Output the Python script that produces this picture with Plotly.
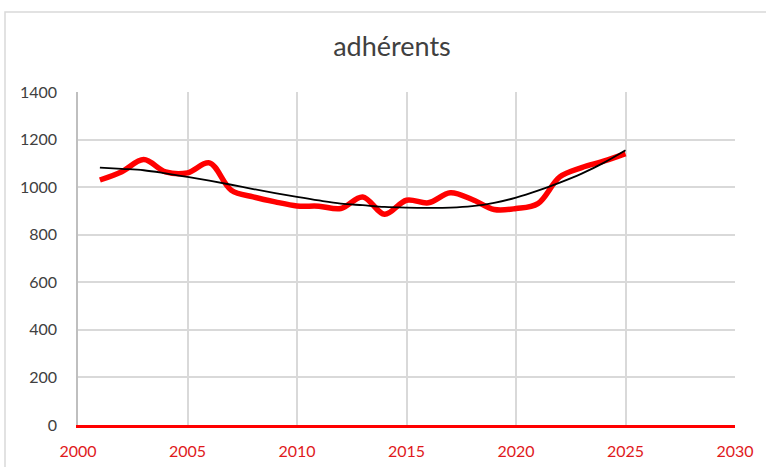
import plotly.graph_objects as go

years = list(range(2001, 2026))
adherents = [1030, 1065, 1116, 1064, 1060, 1102, 987, 959, 938, 921,
             920, 910, 959, 886, 945, 934, 976, 948, 906, 910,
             931, 1043, 1082, 1109, 1141]
trend = [1082, 1077, 1071, 1058, 1043, 1027, 1010, 992, 975, 959,
         944, 931, 924, 917, 914, 913, 914, 920, 934, 956,
         985, 1019, 1057, 1102, 1155]

x_ticks = [2000, 2005, 2010, 2015, 2020, 2025, 2030]
y_ticks = [0, 200, 400, 600, 800, 1000, 1200, 1400]

W, H = 766, 467
L, R, T, B = 78, 31, 92, 42
pw, ph = W - L - R, H - T - B

fig = go.Figure()
fig.add_trace(go.Scatter(x=years, y=adherents, mode="lines",
                         line=dict(color="#ff0000", width=5.5, shape="spline", smoothing=1.0),
                         showlegend=False, hoverinfo="skip"))
fig.add_trace(go.Scatter(x=years, y=trend, mode="lines",
                         line=dict(color="#000000", width=1.8, shape="spline", smoothing=1.0),
                         showlegend=False, hoverinfo="skip"))

fig.update_layout(
    width=W, height=H,
    margin=dict(l=L, r=R, t=T, b=B, pad=0),
    showlegend=False,
    paper_bgcolor="white", plot_bgcolor="white",
    font=dict(family="Lato, 'Open Sans', sans-serif", color="#595959"),
    title=dict(text="adhérents", x=392 / W, xanchor="center", y=1 - 47 / H, yanchor="middle",
               font=dict(size=27, color="#404040", family="Lato, 'Open Sans', sans-serif")),
    xaxis=dict(range=[2000, 2030], tickvals=x_ticks, showgrid=True, gridcolor="#d9d9d9", gridwidth=2,
               showline=True, linecolor="#ff0000", linewidth=3, zeroline=False, automargin=False,
               tickfont=dict(size=16, color="#e0191c"), ticks="", ticklabelstandoff=10),
    yaxis=dict(range=[0, 1400], tickvals=y_ticks, showgrid=True, gridcolor="#d9d9d9", gridwidth=2,
               showline=True, linecolor="#bfbfbf", linewidth=1.5, zeroline=False, automargin=False,
               tickfont=dict(size=16, color="#404040"), ticks="", ticklabelstandoff=16),
    shapes=[dict(type="rect", xref="paper", yref="paper",
                 x0=(5 - L) / pw, x1=(W + 10 - L) / pw,
                 y0=1 - (H + 10 - T) / ph, y1=1 + (T - 12) / ph,
                 line=dict(color="#d9d9d9", width=1.5), layer="below")],
)

fig.write_html("out.html", config={"displayModeBar": False},
               post_script="document.body.style.margin='0';document.body.style.overflow='hidden';")
